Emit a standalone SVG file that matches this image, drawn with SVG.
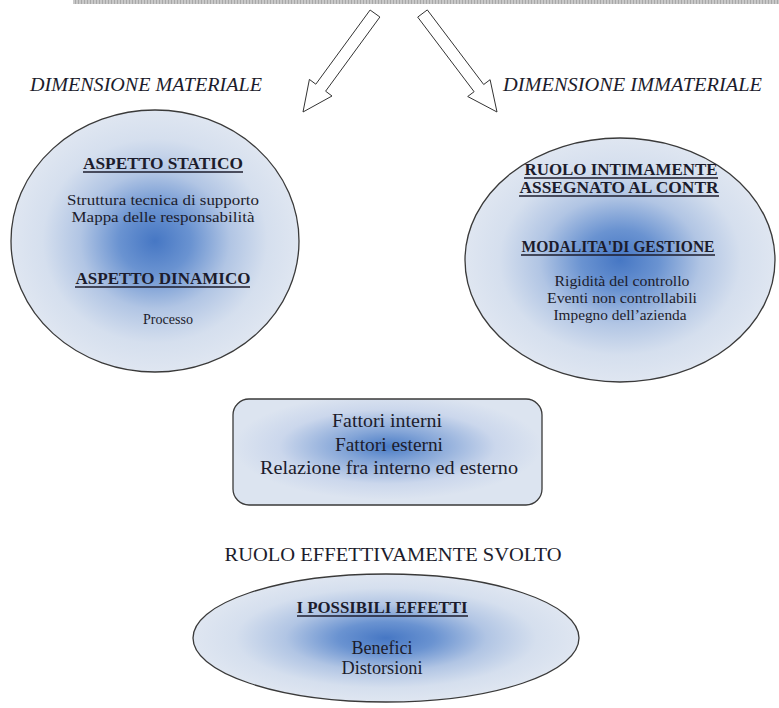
<svg xmlns="http://www.w3.org/2000/svg" width="779" height="708" viewBox="0 0 779 708" font-family="'Liberation Serif', 'DejaVu Serif', serif">
  <defs>
    <radialGradient id="glow" cx="0.5" cy="0.5" r="0.5">
      <stop offset="0" stop-color="#4677c4"/>
      <stop offset="0.25" stop-color="#6a93d1"/>
      <stop offset="0.52" stop-color="#b1c5e4"/>
      <stop offset="0.78" stop-color="#d5dfee"/>
      <stop offset="1" stop-color="#dfe6f1"/>
    </radialGradient>
    <radialGradient id="glowBox" cx="0.5" cy="0.45" r="0.5">
      <stop offset="0" stop-color="#4a7cc6"/>
      <stop offset="0.3" stop-color="#85a6d8"/>
      <stop offset="0.7" stop-color="#cbd7ec"/>
      <stop offset="1" stop-color="#dce4f0"/>
    </radialGradient>
    <pattern id="hatch" width="3" height="4" patternUnits="userSpaceOnUse">
      <rect width="3" height="4" fill="#c9c9c9"/>
      <rect width="1" height="4" fill="#a8a8a8"/>
    </pattern>
  </defs>
  <style>
    .shape { fill: url(#glow); stroke: #3a3a3a; stroke-width: 1.3; }
    .arrow { fill: #ffffff; stroke: #333333; stroke-width: 1; stroke-linejoin: miter; }
    text { font-family: "Liberation Serif", "DejaVu Serif", serif; fill: #1c1c2c; text-anchor: middle; }
    .dim { font-style: italic; font-size: 18px; text-anchor: start; }
    .head { font-weight: bold; font-size: 16px; }
    .item { font-size: 14px; }
    .big { font-size: 18px; }
    .ul { stroke: #1c1c2c; stroke-width: 1.3; }
  </style>

  <rect width="779" height="708" fill="#ffffff"/>

  <!-- top band -->
  <rect x="73" y="0" width="706" height="4" fill="url(#hatch)"/>

  <!-- connectors -->
  <g id="connectors">
    <polygon class="arrow" points="370.1,10 379.9,17 325.6,91.2 332,96 303,112 309.4,79.4 315.8,84.2"/>
    <polygon class="arrow" points="427.3,9.9 417.7,17.1 474.1,91.7 467.7,96.5 497,112 490.1,79.7 483.7,84.5"/>
  </g>

  <!-- section labels -->
  <text class="dim" x="30" y="91" textLength="232" lengthAdjust="spacingAndGlyphs">DIMENSIONE MATERIALE</text>
  <text class="dim" x="503" y="91" textLength="259" lengthAdjust="spacingAndGlyphs">DIMENSIONE IMMATERIALE</text>

  <!-- material dimension -->
  <g id="materiale">
    <ellipse class="shape" cx="155" cy="241" rx="144" ry="131"/>
    <text class="head" x="163" y="169" textLength="160" lengthAdjust="spacingAndGlyphs">ASPETTO STATICO</text>
    <line class="ul" x1="83" y1="172" x2="243" y2="172"/>
    <text class="item" x="163" y="205" textLength="192" lengthAdjust="spacingAndGlyphs">Struttura tecnica di supporto</text>
    <text class="item" x="163" y="222" textLength="183" lengthAdjust="spacingAndGlyphs">Mappa delle responsabilità</text>
    <text class="head" x="163" y="284" textLength="175" lengthAdjust="spacingAndGlyphs">ASPETTO DINAMICO</text>
    <line class="ul" x1="75" y1="287" x2="250" y2="287"/>
    <text class="item" x="168" y="324" textLength="50" lengthAdjust="spacingAndGlyphs">Processo</text>
  </g>

  <!-- immaterial dimension -->
  <g id="immateriale">
    <ellipse class="shape" cx="620" cy="260" rx="155" ry="122"/>
    <text class="head" x="621" y="175" textLength="193" lengthAdjust="spacingAndGlyphs">RUOLO INTIMAMENTE</text>
    <line class="ul" x1="524" y1="178" x2="718" y2="178"/>
    <text class="head" x="619" y="193" textLength="199" lengthAdjust="spacingAndGlyphs">ASSEGNATO AL CONTR</text>
    <line class="ul" x1="519" y1="196" x2="719" y2="196"/>
    <text class="head" x="618" y="252" textLength="193" lengthAdjust="spacingAndGlyphs">MODALITA'DI GESTIONE</text>
    <line class="ul" x1="521" y1="255" x2="715" y2="255"/>
    <text class="item" x="622" y="286" textLength="135" lengthAdjust="spacingAndGlyphs">Rigidità del controllo</text>
    <text class="item" x="622" y="303" textLength="150" lengthAdjust="spacingAndGlyphs">Eventi non controllabili</text>
    <text class="item" x="620" y="320" textLength="133" lengthAdjust="spacingAndGlyphs">Impegno dell’azienda</text>
  </g>

  <!-- factors -->
  <g id="fattori">
    <rect x="233" y="399" width="309" height="106" rx="16" ry="16" fill="url(#glowBox)" stroke="#3a3a3a" stroke-width="1.3"/>
    <text class="big" x="387" y="427" textLength="110" lengthAdjust="spacingAndGlyphs">Fattori interni</text>
    <text class="big" x="389" y="451" textLength="108" lengthAdjust="spacingAndGlyphs">Fattori esterni</text>
    <text class="big" x="389" y="474" textLength="258" lengthAdjust="spacingAndGlyphs">Relazione fra interno ed esterno</text>
  </g>

  <text class="big" x="393" y="561" textLength="337" lengthAdjust="spacingAndGlyphs">RUOLO EFFETTIVAMENTE SVOLTO</text>

  <!-- effects -->
  <g id="effetti">
    <ellipse class="shape" cx="386" cy="638" rx="193" ry="64"/>
    <text class="head" x="382" y="613" textLength="171" lengthAdjust="spacingAndGlyphs">I POSSIBILI EFFETTI</text>
    <line class="ul" x1="297" y1="616" x2="468" y2="616"/>
    <text class="big" x="382" y="654" textLength="61" lengthAdjust="spacingAndGlyphs">Benefici</text>
    <text class="big" x="382" y="674" textLength="81" lengthAdjust="spacingAndGlyphs">Distorsioni</text>
  </g>
</svg>
